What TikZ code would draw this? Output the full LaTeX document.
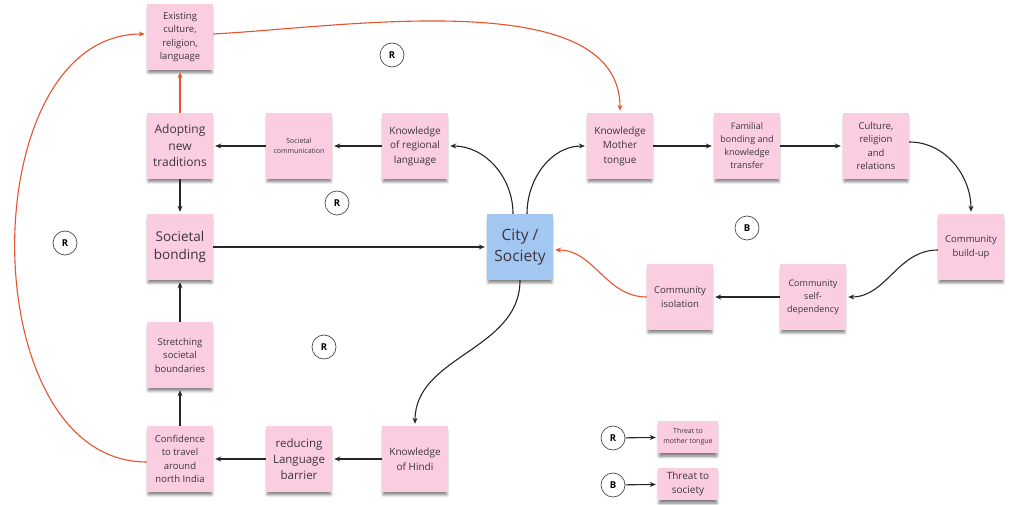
\documentclass[tikz,border=0pt]{standalone}
\usepackage{fontspec}
\setmainfont{Open Sans}
\usetikzlibrary{positioning,shadows.blur,arrows.meta}

\definecolor{notepink}{RGB}{250,206,224}
\definecolor{noteblue}{RGB}{162,199,240}
\definecolor{loopred}{RGB}{232,83,47}
\definecolor{notetext}{RGB}{62,52,62}

\begin{document}
\begin{tikzpicture}[x=1pt, y=1pt,
	fs/.style 2 args={font=\fontsize{#1}{#2}\selectfont},
	link/.style={line width=1.1pt, draw=black!85, -{Stealth[length=6pt,width=5pt]}, shorten >=2pt},
	redlink/.style={link, draw=loopred}]

\tikzstyle{note} = [
    fill = notepink,
    minimum width = 66pt,
    minimum height = 66pt,
    inner sep = 1pt,
    align = center,
    text = notetext,
    blur shadow = {shadow xshift=0pt, shadow yshift=-4pt, shadow scale=0.96,
        shadow blur steps=8, shadow blur radius=3pt, shadow opacity=55}
]
\tikzstyle{loop} = [
    circle, draw = black!70, fill = white,
    line width = 0.7pt,
    minimum size = 24pt, inner sep = 0pt,
    font = \bfseries\fontsize{9.5}{11}\selectfont
]

\useasboundingbox (0,0) rectangle (1011,504);

% left column
\node [note, fs={9.5}{13.5}] (ex) at (180,467) {Existing\\culture,\\religion,\\language};
\node [note, fs={12}{16.5}] (adopt) at (180,358) {Adopting\\new\\traditions};
\node [note, fs={13.5}{17.5}] (bond) at (180,257) {Societal\\bonding};
\node [note, fs={9.5}{13.5}] (stretch) at (180,149) {Stretching\\societal\\boundaries};
\node [note, fs={9.5}{13.5}] (conf) at (180,45) {Confidence\\to travel\\around\\north India};

% upper and lower rows
\node [note, fs={7}{10}] (soccomm) at (299,358) {Societal\\communication};
\node [note, fs={10}{14.5}] (kreg) at (415,358) {Knowledge\\of regional\\language};
\node [note, fs={11.5}{16}] (reduce) at (299,45) {reducing\\Language\\barrier};
\node [note, fs={10}{14.5}] (khindi) at (415,45) {Knowledge\\of Hindi};

% centre
\node [note, fill=noteblue, fs={15.5}{21}] (city) at (520,257) {City /\\Society};

% right loop
\node [note, fs={10}{14.5}] (kmother) at (620,358) {Knowledge\\Mother\\tongue};
\node [note, fs={9}{13}] (famil) at (747,358) {Familial\\bonding and\\knowledge\\transfer};
\node [note, fs={9.5}{13.5}] (culture) at (876,358) {Culture,\\religion\\and\\relations};
\node [note, fs={9.5}{14}] (build) at (971,257) {Community\\build-up};
\node [note, fs={9}{13}] (selfdep) at (813,207) {Community\\self-\\dependency};
\node [note, fs={9.5}{13.5}] (isol) at (680,207) {Community\\isolation};

% loop markers
\node [loop] (r1) at (392,449) {R};
\node [loop] (r2) at (337,301) {R};
\node [loop] (r3) at (324,157) {R};
\node [loop] (r4) at (65,261) {R};
\node [loop] (b1) at (747,276) {B};

% legend
\node [loop] (lr) at (613,66) {R};
\node [loop] (lb) at (613,19) {B};
\node [note, minimum width=60pt, minimum height=32pt, fs={7}{10}] (lrbox) at (688,67) {Threat to\\mother tongue};
\node [note, minimum width=60pt, minimum height=32pt, fs={10}{14}] (lbbox) at (688,20) {Threat to\\society};
\draw [link] (lr) -- (lrbox);
\draw [link] (lb) -- (lbbox);

% connectors
\draw [redlink] (adopt) -- (ex);
\draw [link] (soccomm) -- (adopt);
\draw [link] (kreg) -- (soccomm);
\draw [link] (adopt) -- (bond);
\draw [link] (bond) -- (city);
\draw [link] (stretch) -- (bond);
\draw [link] (conf) -- (stretch);
\draw [link] (reduce) -- (conf);
\draw [link] (khindi) -- (reduce);
\draw [link] ([xshift=-7pt]city.north) to[out=90, in=0] (kreg.east);
\draw [link] ([xshift=7pt]city.north) to[out=90, in=180] (kmother.west);
\draw [link] (city.south) to[out=-90, in=90] (khindi.north);
\draw [link] (kmother) -- (famil);
\draw [link] (famil) -- (culture);
\draw [link] ([yshift=4pt]culture.east) to[out=0, in=90] (build.north);
\draw [link] ([yshift=-3pt]build.west) to[out=180, in=0] (selfdep.east);
\draw [link] (selfdep) -- (isol);
\draw [redlink] (isol.west) to[out=180, in=0] ([yshift=-3pt]city.east);
\draw [redlink] ([yshift=-3pt]conf.west) to[out=180, in=180, looseness=1.05] ([yshift=3pt]ex.west);
\draw [redlink] ([yshift=3pt]ex.east) to[out=3, in=90, looseness=0.8] (kmother.north);
\end{tikzpicture}
\end{document}
